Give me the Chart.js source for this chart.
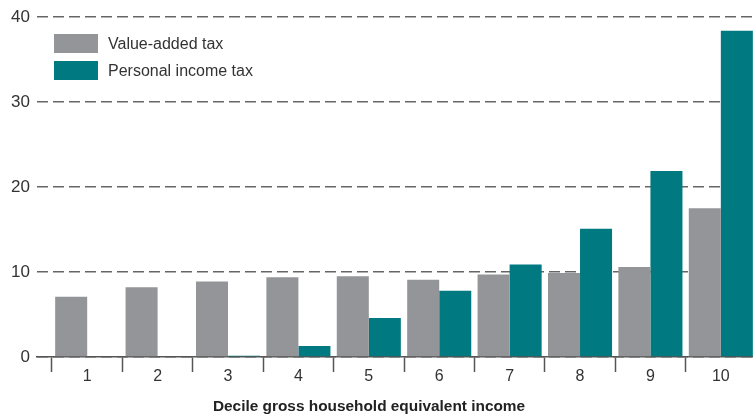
<!DOCTYPE html>
<html>
<head>
<meta charset="utf-8">
<script src="https://cdn.jsdelivr.net/npm/chart.js@4/dist/chart.umd.min.js"></script>
<style>
  body { margin: 0; background: #fff; }
  #wrap { position: relative; width: 753px; height: 414px; }
  #legend { position: absolute; left: 54px; top: 34px; font-family: "Liberation Sans", Arial, sans-serif; font-size: 16px; color: #333; }
  .row { display: flex; align-items: center; height: 19px; margin-bottom: 8px; }
  .box { width: 44px; height: 19px; margin-right: 10px; }
</style>
</head>
<body>
<div id="wrap">
  <canvas id="tax-chart" width="753" height="414"></canvas>
  <div id="legend"></div>
</div>
<script>
// decile 1..10
const deciles = [1, 2, 3, 4, 5, 6, 7, 8, 9, 10]
const vatShare = [7.1, 8.2, 8.9, 9.4, 9.5, 9.1, 9.7, 9.9, 10.6, 17.5]
const incomeTaxShare = [0, 0, 0.15, 1.3, 4.6, 7.8, 10.9, 15.1, 21.9, 38.4]
const yTicks = [0, 10, 20, 30, 40]
const seriesNames = ['Value-added tax', 'Personal income tax']
const seriesColors = ['#939598', '#007a80']
const xTitle = 'Decile gross household equivalent income'

const font = "'Liberation Sans', Arial, sans-serif"

const axisTitle = {
    id: 'axisTitle',
    afterDraw(chart) {
        const ctx = chart.ctx
        ctx.save()
        ctx.font = 'bold 15.4px ' + font
        ctx.fillStyle = '#222'
        ctx.textAlign = 'center'
        ctx.textBaseline = 'alphabetic'
        ctx.fillText(xTitle, 369, 411)
        ctx.restore()
    }
}

const dataSets = [vatShare, incomeTaxShare].map((vals, i) => ({
    label: seriesNames[i],
    data: deciles.map((d, j) => ({ x: d, y: vals[j] })),
    backgroundColor: seriesColors[i],
    borderWidth: 0,
    categoryPercentage: 0.91,
    barPercentage: 1
}))

new Chart(document.getElementById('tax-chart'), {
    type: 'bar',
    data: { datasets: dataSets },
    options: {
        responsive: false,
        animation: false,
        layout: { padding: { top: 17, left: 0, right: 0, bottom: 0 } },
        plugins: { legend: { display: false }, tooltip: { enabled: false } },
        scales: {
            x: {
                type: 'linear',
                offset: false,
                min: 0.287,
                max: 10.457,
                afterBuildTicks: s => { s.ticks = deciles.map(v => ({ value: v })) },
                afterFit: s => { s.height = 57 },
                grid: {
                    offset: true,
                    drawOnChartArea: false,
                    drawTicks: true,
                    tickLength: 15,
                    tickColor: '#555',
                    tickWidth: 1.5
                },
                border: { display: true, color: '#555', width: 1.5 },
                ticks: {
                    padding: -5,
                    color: '#333',
                    font: { family: font, size: 16 },
                    maxRotation: 0,
                    autoSkip: false
                }
            },
            y: {
                min: 0,
                max: 40,
                afterBuildTicks: s => { s.ticks = yTicks.map(v => ({ value: v })) },
                afterFit: s => { s.width = 37 },
                grid: {
                    color: '#666',
                    lineWidth: 1.5,
                    drawTicks: false
                },
                border: { display: false, dash: [11, 5] },
                ticks: {
                    padding: 7,
                    color: '#333',
                    font: { family: font, size: 17 }
                }
            }
        }
    },
    plugins: [axisTitle]
})

// legend inside plot
const legend = document.getElementById('legend')
seriesNames.forEach((name, i) => {
    const row = document.createElement('div')
    row.className = 'row'
    row.innerHTML = '<div class="box" style="background:' + seriesColors[i] + '"></div><span>' + name + '</span>'
    legend.appendChild(row)
})
</script>
</body>
</html>
